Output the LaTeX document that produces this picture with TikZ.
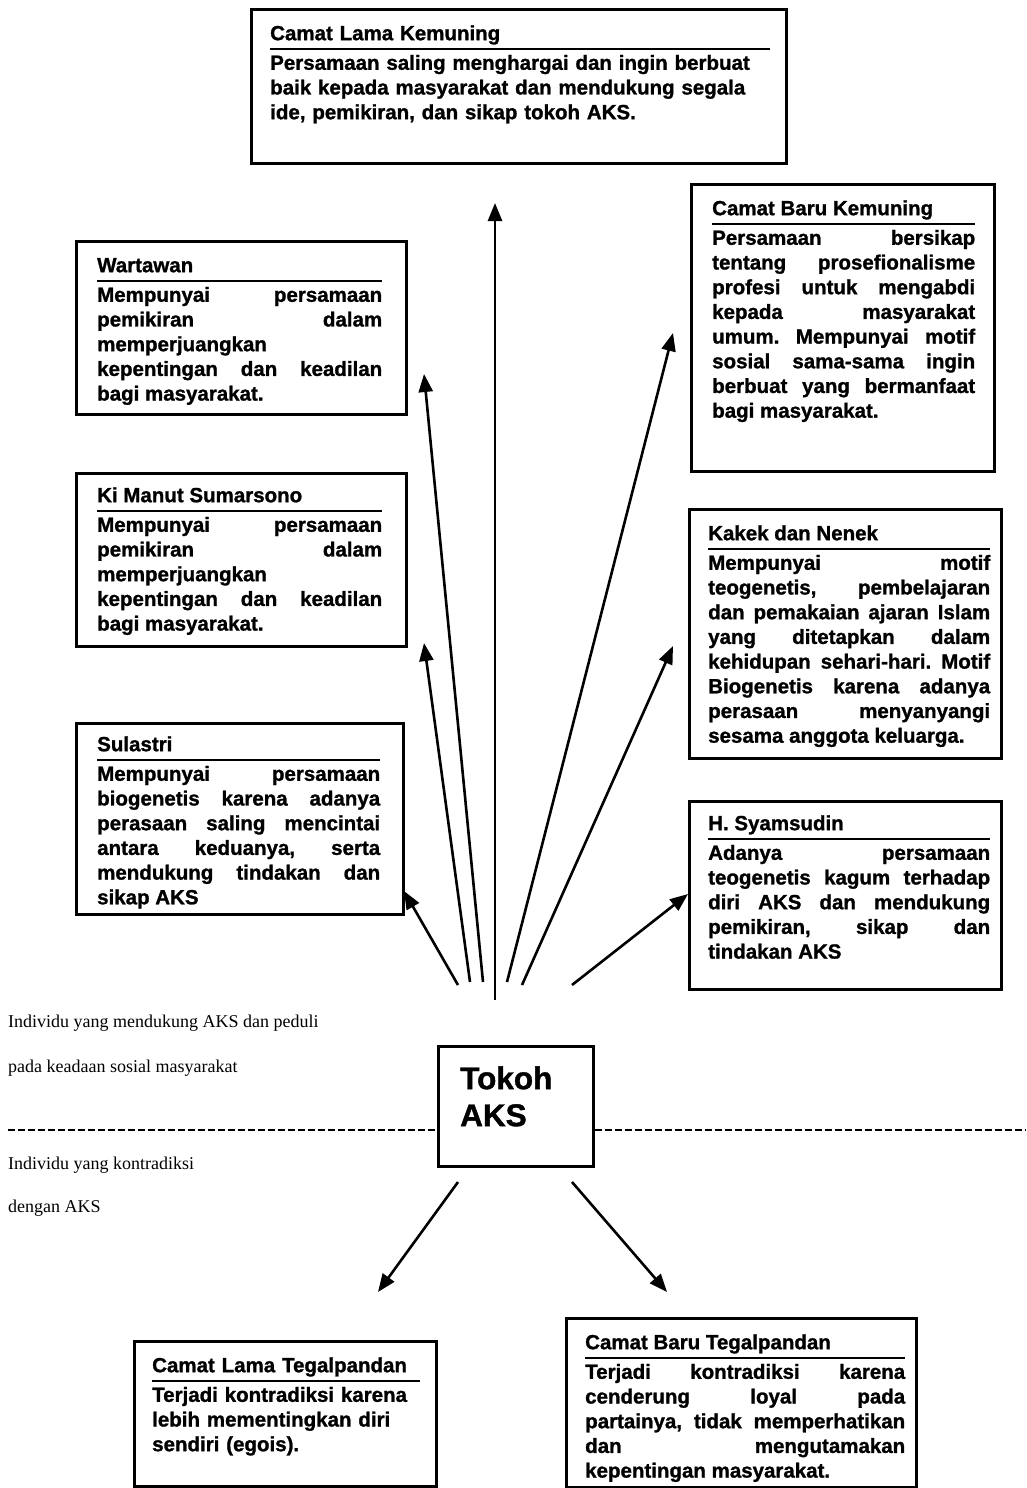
\documentclass[tikz,border=0pt]{standalone}
\usepackage{fontspec}
\setmainfont{Liberation Sans}[BoldFeatures={FakeBold=1.2}]
\newfontfamily\noteserif{Liberation Serif}
\usetikzlibrary{arrows.meta}
\setlength\parindent{0pt}
\frenchspacing
\tolerance=10000 \hbadness=10000 \hyphenpenalty=10000 \exhyphenpenalty=10000
\newcommand\bodysize{\fontsize{20.5}{24.7}\selectfont}
% title, rule under it, then the description
\newcommand\entrytext[2]{\strut #1\par\nointerlineskip\hrule height 2.4pt\vskip 2.5pt\strut #2}
\tikzset{
  frame/.style={draw, line width=2.6pt, inner sep=0pt, anchor=north west},
  entry/.style={anchor=north west, inner sep=0pt, align=justify, font=\bodysize\bfseries},
  entryleft/.style={entry, align=left},
  link/.style={line width=2.6pt, -{Triangle[length=18pt,width=14pt]}},
  divider/.style={line width=2.4pt, dash pattern=on 7pt off 3pt},
  note/.style={anchor=west, inner sep=0pt, font=\noteserif\fontsize{18}{20}\selectfont}
}
\begin{document}
\begin{tikzpicture}[x=1pt, y=-1pt]
\useasboundingbox (0,0) rectangle (1026,1488);

% ---- frames ----
\node[frame, minimum width=535pt, minimum height=154pt] (clk) at (250,8) {};
\node[frame, minimum width=330pt, minimum height=173pt] (wart) at (75,240) {};
\node[frame, minimum width=303pt, minimum height=287pt] (cbk) at (690,183) {};
\node[frame, minimum width=330pt, minimum height=173pt] (kimanut) at (75,472) {};
\node[frame, minimum width=312pt, minimum height=249pt] (kakek) at (688,508) {};
\node[frame, minimum width=327pt, minimum height=191pt] (sulastri) at (75,722) {};
\node[frame, minimum width=312pt, minimum height=188pt] (syams) at (688,800) {};
\node[frame, minimum width=155pt, minimum height=120pt] (tokoh) at (437,1045) {};
\node[frame, minimum width=302pt, minimum height=145pt] (clt) at (133,1340) {};
\node[frame, minimum width=350pt, minimum height=169pt] (cbt) at (565,1317) {};

% ---- texts ----
\node[entryleft, text width=500pt] (clkText) at (270,22.7) {\entrytext{Camat Lama Kemuning}{Persamaan saling menghargai dan ingin berbuat\\ baik kepada masyarakat dan mendukung segala\\ ide, pemikiran, dan sikap tokoh AKS.}};

\node[entry, text width=285pt] (wartText) at (97,254.7) {\entrytext{Wartawan}{Mempunyai persamaan \linebreak pemikiran dalam \linebreak memperjuangkan \linebreak kepentingan dan keadilan \linebreak bagi masyarakat.}};

\node[entry, text width=263pt] (cbkText) at (712,197.7) {\entrytext{Camat Baru Kemuning}{Persamaan bersikap \linebreak tentang prosefionalisme \linebreak profesi untuk mengabdi \linebreak kepada masyarakat \linebreak umum. Mempunyai motif \linebreak sosial sama-sama ingin \linebreak berbuat yang bermanfaat \linebreak bagi masyarakat.}};

\node[entry, text width=285pt] (kimanutText) at (97,484.7) {\entrytext{Ki Manut Sumarsono}{Mempunyai persamaan \linebreak pemikiran dalam \linebreak memperjuangkan \linebreak kepentingan dan keadilan \linebreak bagi masyarakat.}};

\node[entry, text width=282pt] (kakekText) at (708,522.7) {\entrytext{Kakek dan Nenek}{Mempunyai motif \linebreak teogenetis, pembelajaran \linebreak dan pemakaian ajaran Islam \linebreak yang ditetapkan dalam \linebreak kehidupan sehari-hari. Motif \linebreak Biogenetis karena adanya \linebreak perasaan menyanyangi \linebreak sesama anggota keluarga.}};

\node[entry, text width=283pt] (sulastriText) at (97,733.7) {\entrytext{Sulastri}{Mempunyai persamaan \linebreak biogenetis karena adanya \linebreak perasaan saling mencintai \linebreak antara keduanya, serta \linebreak mendukung tindakan dan \linebreak sikap AKS}};

\node[entry, text width=282pt] (syamsText) at (708,812.7) {\entrytext{H. Syamsudin}{Adanya persamaan \linebreak teogenetis kagum terhadap \linebreak diri AKS dan mendukung \linebreak pemikiran, sikap dan \linebreak tindakan AKS}};

\node[anchor=west, inner sep=0pt, align=left, font=\fontsize{31.5}{37}\selectfont\bfseries] (tokohText) at (460,1096.4) {Tokoh\\AKS};

\node[entryleft, text width=268pt] (cltText) at (152,1354.7) {\entrytext{Camat Lama Tegalpandan}{Terjadi kontradiksi karena\\ lebih mementingkan diri\\ sendiri (egois).}};

\node[entry, text width=320pt] (cbtText) at (585,1331.7) {\entrytext{Camat Baru Tegalpandan}{Terjadi kontradiksi karena \linebreak cenderung loyal pada \linebreak partainya, tidak memperhatikan \linebreak dan mengutamakan \linebreak kepentingan masyarakat.}};

% ---- side notes ----
\node[note] (supportA) at (8,1023) {Individu yang mendukung AKS dan peduli};
\node[note] (supportB) at (8,1068) {pada keadaan sosial masyarakat};
\node[note] (contraA) at (8,1165) {Individu yang kontradiksi};
\node[note] (contraB) at (8,1208) {dengan AKS};

% ---- dashed divider ----
\coordinate (divL) at (8,1130);
\coordinate (divR) at (1026,1130);
\draw[divider] (divL) -- (divL -| tokoh.west);
\draw[divider] (tokoh.east |- divR) -- (divR);

% ---- arrow ends ----
\coordinate (fromUp) at (495,1000);   \coordinate (toUp) at (495,203);
\coordinate (fromWart) at (483,982);  \coordinate (toWart) at (424,374);
\coordinate (fromKi) at (470,982);    \coordinate (toKi) at (424,643);
\coordinate (fromSul) at (458,985);   \coordinate (toSul) at (404,891);
\coordinate (fromCbk) at (507,982);   \coordinate (toCbk) at (673,333);
\coordinate (fromKak) at (522,985);   \coordinate (toKak) at (673,646);
\coordinate (fromSya) at (572,985);   \coordinate (toSya) at (688,894);
\coordinate (fromClt) at (458,1182);  \coordinate (toClt) at (378,1292);
\coordinate (fromCbt) at (572,1182);  \coordinate (toCbt) at (667,1292);

\draw[link] (fromUp) -- (toUp);
\draw[link] (fromWart) -- (toWart);
\draw[link] (fromKi) -- (toKi);
\draw[link] (fromSul) -- (toSul);
\draw[link] (fromCbk) -- (toCbk);
\draw[link] (fromKak) -- (toKak);
\draw[link] (fromSya) -- (toSya);
\draw[link] (fromClt) -- (toClt);
\draw[link] (fromCbt) -- (toCbt);
\end{tikzpicture}
\end{document}
